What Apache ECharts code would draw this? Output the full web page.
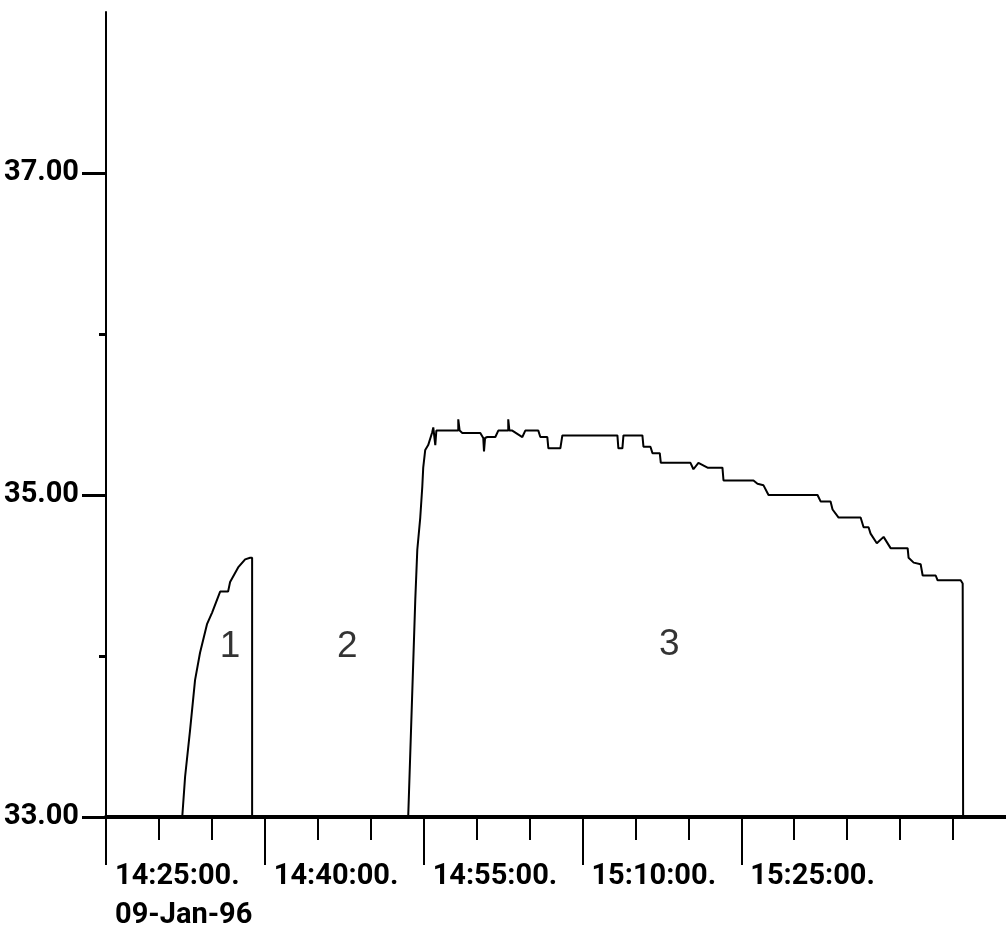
<!DOCTYPE html>
<html>
<head>
<meta charset="utf-8">
<title>Temperature trace 09-Jan-96</title>
<script src="https://cdn.jsdelivr.net/npm/echarts@6/dist/echarts.min.js"></script>
<style>
    html, body { margin: 0; padding: 0; background: #fff; }
    #main { width: 1006px; height: 941px; }
</style>
</head>
<body>
<div id="main"></div>
<script>
// x = minutes after 14:25:00, y = reading
var runOne = [
    [7.2, 33.0], [7.47, 33.25], [7.94, 33.54], [8.41, 33.85], [8.88, 34.02],
    [9.55, 34.2], [10.02, 34.27], [10.78, 34.4], [11.53, 34.4], [11.72, 34.46],
    [12.48, 34.55], [13.14, 34.6], [13.61, 34.61], [13.8, 34.61], [13.8, 33.0]
];
var runThree = [
    [28.54, 33.0], [29.21, 34.35], [29.4, 34.66], [29.68, 34.86], [29.87, 35.05],
    [29.96, 35.17], [30.15, 35.28], [30.43, 35.31], [30.81, 35.39], [30.91, 35.42],
    [31.1, 35.31], [31.2, 35.4], [31.57, 35.4], [33.27, 35.4], [33.27, 35.47],
    [33.4, 35.4], [33.65, 35.385], [35.35, 35.385], [35.63, 35.354], [35.7, 35.27],
    [35.8, 35.354], [36.01, 35.36], [36.77, 35.36], [37.05, 35.4], [37.99, 35.4],
    [37.99, 35.47], [38.1, 35.4], [38.37, 35.4], [39.32, 35.36], [39.6, 35.4],
    [40.83, 35.4], [41.02, 35.36], [41.68, 35.36], [41.78, 35.29], [42.91, 35.29],
    [43.1, 35.37], [48.3, 35.37], [48.39, 35.29], [48.77, 35.29], [48.87, 35.37],
    [50.66, 35.37], [50.76, 35.3], [51.42, 35.3], [51.61, 35.26], [52.3, 35.26],
    [52.4, 35.2], [55.2, 35.2], [55.48, 35.16], [55.95, 35.2], [56.81, 35.17],
    [58.22, 35.17], [58.32, 35.09], [61.15, 35.09], [61.53, 35.07], [62.1, 35.06],
    [62.57, 35.0], [67.2, 35.0], [67.49, 34.96], [68.43, 34.96], [68.62, 34.91],
    [69.19, 34.86], [71.27, 34.86], [71.55, 34.8], [72.02, 34.8], [72.21, 34.76],
    [72.8, 34.7], [73.44, 34.74], [74.1, 34.67], [75.71, 34.67], [75.8, 34.61],
    [76.28, 34.58], [76.94, 34.57], [77.13, 34.5], [78.36, 34.5], [78.54, 34.47],
    [80.72, 34.47], [80.91, 34.45], [80.95, 33.0]
];

var xMajor = [0, 15, 30, 45, 60];
var xMajorLabels = ['14:25:00.\n09-Jan-96', '14:40:00.', '14:55:00.', '15:10:00.', '15:25:00.'];
var xMinor = [5, 10, 20, 25, 35, 40, 50, 55, 65, 70, 75, 80];
var yMajor = [33, 35, 37];
var yMinor = [34, 36];

var noteText = ['1', '2', '3'];
var noteX = [11.72, 22.78, 53.2];
var noteY = [34.06, 34.06, 34.07];

var tickFont = 'Roboto, "Liberation Sans", sans-serif';

var myChart = echarts.init(document.getElementById('main'));

var notes = noteText.map(function (t, i) {
    return { value: [noteX[i], noteY[i]], name: t };
});

var option = {
    backgroundColor: '#fff',
    animation: false,
    grid: { left: 106, right: 0, top: 12, bottom: 124, containLabel: false, outerBoundsMode: 'none' },
    xAxis: [{
        type: 'value', min: 0, max: 85, position: 'bottom',
        splitLine: { show: false },
        axisLine: { onZero: false, lineStyle: { color: '#000', width: 4 } },
        axisTick: { customValues: xMajor, length: 48, lineStyle: { color: '#000', width: 2 } },
        axisLabel: {
            customValues: xMajor,
            formatter: function (v) {
                var i = xMajor.indexOf(v);
                return i < 0 ? '' : xMajorLabels[i];
            },
            align: 'left', verticalAlign: 'top', margin: 40,
            padding: [0, 0, 0, 9],
            color: '#000', fontFamily: tickFont, fontWeight: 'bold',
            fontSize: 29, lineHeight: 39
        }
    }, {
        type: 'value', min: 0, max: 85, position: 'bottom',
        splitLine: { show: false },
        axisLine: { show: false, onZero: false },
        axisTick: { customValues: xMinor, length: 23, lineStyle: { color: '#000', width: 2 } },
        axisLabel: { show: false }
    }],
    yAxis: [{
        type: 'value', min: 33, max: 38, position: 'left',
        splitLine: { show: false },
        axisLine: { show: true, lineStyle: { color: '#000', width: 2 } },
        axisTick: { customValues: yMajor, length: 24, lineStyle: { color: '#000', width: 3 } },
        axisLabel: {
            customValues: yMajor,
            formatter: function (v) { return v.toFixed(2); },
            margin: 27, color: '#000', fontFamily: tickFont,
            fontWeight: 'bold', fontSize: 29
        }
    }, {
        type: 'value', min: 33, max: 38, position: 'left',
        splitLine: { show: false },
        axisLine: { show: false },
        axisTick: { show: true, customValues: yMinor, length: 7, lineStyle: { color: '#000', width: 3 } },
        axisLabel: { show: false }
    }],
    series: [{
        name: 'run 1', type: 'line', data: runOne,
        showSymbol: false, lineStyle: { color: '#000', width: 2 }
    }, {
        name: 'run 3', type: 'line', data: runThree,
        showSymbol: false, lineStyle: { color: '#000', width: 2 }
    }, {
        name: 'notes', type: 'scatter', data: notes,
        symbolSize: 1, itemStyle: { color: 'rgba(0,0,0,0)' },
        label: {
            show: true, position: 'inside',
            formatter: function (p) { return p.name; },
            color: '#000', fontFamily: '"Liberation Sans", Arial, sans-serif',
            fontSize: 37
        }
    }]
};
myChart.setOption(option);
</script>
</body>
</html>
